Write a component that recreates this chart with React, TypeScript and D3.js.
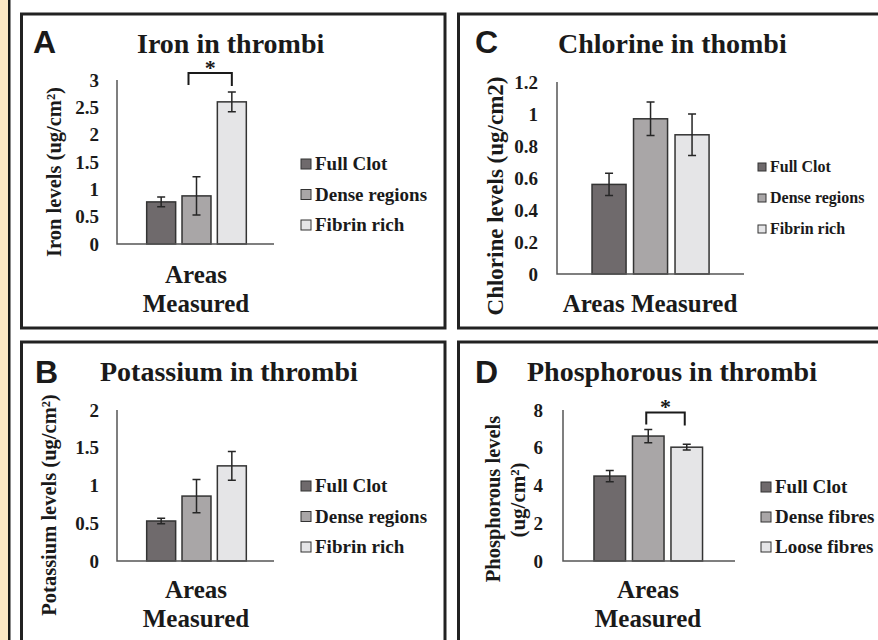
import React from 'react';
import * as d3 from 'd3';

// values (means and error bar half-widths)
const clotAreas = ['Full Clot', 'Dense regions', 'Fibrin rich'];
const fibreAreas = ['Full Clot', 'Dense fibres', 'Loose fibres'];

const ironValues = [0.77, 0.88, 2.6];
const ironErrors = [0.09, 0.35, 0.18];
const ironTicks = [0, 0.5, 1, 1.5, 2, 2.5, 3];

const chlorineValues = [0.56, 0.97, 0.87];
const chlorineErrors = [0.07, 0.105, 0.13];
const chlorineTicks = [0, 0.2, 0.4, 0.6, 0.8, 1, 1.2];

const potassiumValues = [0.53, 0.86, 1.26];
const potassiumErrors = [0.035, 0.22, 0.19];
const potassiumTicks = [0, 0.5, 1, 1.5, 2];

const phosphorusValues = [4.5, 6.62, 6.03];
const phosphorusErrors = [0.3, 0.35, 0.15];
const phosphorusTicks = [0, 2, 4, 6, 8];

const fills = ['#6f6a6c', '#a9a6a7', '#e5e5e7'];
const serif = '"Liberation Serif", "Times New Roman", serif';
const sans = '"Liberation Sans", Arial, sans-serif';
const ink = '#1a1a1a';

const Panel = ({ p }) => {
  const y = d3.scaleLinear().domain([0, p.ticks[p.ticks.length - 1]]).range([p.y0, p.yTop]);
  const x = d3.scaleBand().domain(p.cats).range([p.bandStart, p.bandEnd]).paddingInner(0.18).paddingOuter(0.09);
  const bw = x.bandwidth();
  const fmt = d3.format('~g');

  let bracket = null;
  if (p.bracket) {
    const [a, b] = p.bracket;
    const xa = x(p.cats[a]) + bw / 2 - p.bracketShift[0];
    const xb = x(p.cats[b]) + bw / 2 - p.bracketShift[1];
    const top = y(Math.max(...p.values.map((v, i) => v + p.errors[i]))) - p.bracketGap;
    bracket = (
      <g>
        <path d={`M${xa},${top + 12}V${top}H${xb}V${top + 13}`} fill="none" stroke={ink} strokeWidth={2} />
        <text x={(xa + xb) / 2} y={top + 2} textAnchor="middle" fontFamily={serif} fontWeight="bold" fontSize={22} fill={ink}>*</text>
      </g>
    );
  }

  return (
    <g>
      <text x={p.letter[0]} y={p.letter[1]} fontFamily={sans} fontWeight="bold" fontSize={32} fill={ink}>{p.letterText}</text>
      <text x={p.title[0]} y={p.title[1]} fontFamily={serif} fontWeight="bold" fontSize={28} fill={ink}>{p.titleText}</text>

      {p.yLabel.map((l, i) => (
        <text key={i} transform={`translate(${l.x},${l.y}) rotate(-90)`} dy="0.35em" textAnchor="middle"
          fontFamily={serif} fontWeight="bold" fontSize={l.size} fill={ink}>{l.text}</text>
      ))}

      {p.ticks.map(t => (
        <text key={t} x={p.tickX} y={y(t)} dy="0.35em" textAnchor="end" fontFamily={serif} fontWeight="bold"
          fontSize={19} fill={ink}>{fmt(t)}</text>
      ))}

      {p.values.map((v, i) => (
        <rect key={i} x={x(p.cats[i])} y={y(v)} width={bw} height={p.y0 - y(v)} fill={fills[i]}
          stroke="#333" strokeWidth={1.5} />
      ))}

      {p.values.map((v, i) => {
        const cx = x(p.cats[i]) + bw / 2;
        const hi = y(v + p.errors[i]);
        const lo = y(v - p.errors[i]);
        return (
          <path key={i} d={`M${cx},${hi}V${lo}M${cx - 4},${hi}H${cx + 4}M${cx - 4},${lo}H${cx + 4}`}
            stroke="#262626" strokeWidth={1.5} fill="none" />
        );
      })}

      <path d={`M${p.axisX},${p.yTop}V${p.y0}H${p.axisEnd}`} fill="none" stroke="#555" strokeWidth={1.5} />
      {bracket}

      {p.cats.map((c, i) => (
        <g key={c}>
          <rect x={p.legendX - p.sq - 4} y={p.legendY + i * p.legendStep - p.sq - 1} width={p.sq} height={p.sq}
            fill={fills[i]} stroke="#333" strokeWidth={1} />
          <text x={p.legendX} y={p.legendY + i * p.legendStep} fontFamily={serif} fontWeight="bold"
            fontSize={p.legendSize} fill={ink}>{c}</text>
        </g>
      ))}

      {p.xLabel.map((l, i) => (
        <text key={i} x={p.xLabelX} y={l.y} textAnchor="middle" fontFamily={serif} fontWeight="bold"
          fontSize={25} fill={ink}>{l.text}</text>
      ))}
    </g>
  );
};

const panels = [
  {
    letterText: 'A', letter: [33, 53], titleText: 'Iron in thrombi', title: [137, 53],
    cats: clotAreas, values: ironValues, errors: ironErrors, ticks: ironTicks,
    y0: 244, yTop: 80, axisX: 117, axisEnd: 274, bandStart: 143.5, bandEnd: 249.5, tickX: 99,
    yLabel: [{ text: 'Iron levels (ug/cm²)', x: 54, y: 172, size: 20.5 }],
    legendX: 315, legendY: 170, legendStep: 30.5, legendSize: 19, sq: 10,
    xLabelX: 196, xLabel: [{ text: 'Areas', y: 283 }, { text: 'Measured', y: 312 }],
    bracket: [1, 2], bracketGap: 19, bracketShift: [8, 0],
  },
  {
    letterText: 'C', letter: [475, 53], titleText: 'Chlorine in thombi', title: [558, 53],
    cats: clotAreas, values: chlorineValues, errors: chlorineErrors, ticks: chlorineTicks,
    y0: 274, yTop: 82, axisX: 557, axisEnd: 744, bandStart: 588.3, bandEnd: 712.8, tickX: 538,
    yLabel: [{ text: 'Chlorine levels (ug/cm2)', x: 495, y: 196, size: 23 }],
    legendX: 770, legendY: 172, legendStep: 31, legendSize: 16, sq: 8,
    xLabelX: 650, xLabel: [{ text: 'Areas Measured', y: 312 }],
  },
  {
    letterText: 'B', letter: [35, 383], titleText: 'Potassium in thrombi', title: [100, 381],
    cats: clotAreas, values: potassiumValues, errors: potassiumErrors, ticks: potassiumTicks,
    y0: 561, yTop: 410, axisX: 117, axisEnd: 274, bandStart: 143.5, bandEnd: 249.5, tickX: 99,
    yLabel: [{ text: 'Potassium levels (ug/cm²)', x: 49, y: 505, size: 20.5 }],
    legendX: 315, legendY: 492, legendStep: 30.5, legendSize: 19, sq: 10,
    xLabelX: 196, xLabel: [{ text: 'Areas', y: 598 }, { text: 'Measured', y: 627 }],
  },
  {
    letterText: 'D', letter: [475, 383], titleText: 'Phosphorous in thrombi', title: [527, 381],
    cats: fibreAreas, values: phosphorusValues, errors: phosphorusErrors, ticks: phosphorusTicks,
    y0: 561, yTop: 410, axisX: 563, axisEnd: 735, bandStart: 590.5, bandEnd: 706, tickX: 543,
    yLabel: [
      { text: 'Phosphorous levels', x: 493, y: 499, size: 20.5 },
      { text: '(ug/cm²)', x: 518, y: 500, size: 21 },
    ],
    legendX: 775, legendY: 493, legendStep: 30, legendSize: 19, sq: 10,
    xLabelX: 648, xLabel: [{ text: 'Areas', y: 598 }, { text: 'Measured', y: 627 }],
    bracket: [1, 2], bracketGap: 17, bracketShift: [2, 2],
  },
];

export default function App() {
  return (
    <div style={{ position: 'fixed', left: 0, top: 0 }}>
      <svg width={878} height={640} style={{ display: 'block', background: '#fff' }}>
        <rect x={0} y={0} width={8} height={640} fill="#fde8c6" />
        <rect x={8} y={0} width={2.5} height={640} fill="#1a1a1a" />
        <g fill="none" stroke="#222" strokeWidth={3}>
          <rect x={21.5} y={14} width={423.5} height={314} />
          <rect x={458.5} y={14} width={440} height={314} />
          <rect x={21.5} y={342} width={423.5} height={320} />
          <rect x={458.5} y={342} width={440} height={320} />
        </g>
        {panels.map(p => <Panel key={p.letterText} p={p} />)}
      </svg>
    </div>
  );
}
